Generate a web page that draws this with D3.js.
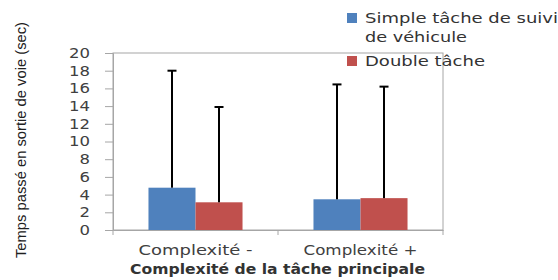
<!DOCTYPE html>
<html><head><meta charset="utf-8">
<script src="https://cdn.jsdelivr.net/npm/d3@7"></script>
<style>body{margin:0;background:#fff}svg{display:block}</style>
</head><body>
<svg id="c" width="558" height="280"></svg>
<script>
const categories = ["Complexité -", "Complexité +"];
const seriesNames = ["Simple tâche de suivi de véhicule", "Double tâche"];
const simpleValues = [4.78, 3.47];
const doubleValues = [3.13, 3.6];
const simpleErrTop = [18.0, 16.45];
const doubleErrTop = [13.9, 16.2];
const yTicks = [0, 2, 4, 6, 8, 10, 12, 14, 16, 18, 20];
const colors = ["#4F81BD", "#C0504D"];

const svg = d3.select("#c");
const L = 113, R = 443, T = 53, B = 230;
const font = "'DejaVu Sans', sans-serif";
const x = d3.scaleBand().domain(categories).range([L, R]).paddingInner(0.43).paddingOuter(0.215);
const xs = d3.scaleBand().domain([0, 1]).range([0, x.bandwidth()]);
const y = d3.scaleLinear().domain([0, 20]).range([B, T]);

// plot border
svg.append("rect").attr("x", L).attr("y", T).attr("width", R - L).attr("height", B - T)
  .attr("fill", "none").attr("stroke", "#a6a6a6").attr("stroke-width", 1);

// y axis
const ya = svg.append("g").attr("transform", `translate(${L},0)`)
  .call(d3.axisLeft(y).tickValues(yTicks).tickSize(8).tickPadding(5));
ya.select(".domain").attr("stroke", "#a6a6a6");
ya.selectAll(".tick line").attr("stroke", "#a6a6a6");
ya.selectAll(".tick text").attr("fill", "#404040").attr("font-family", font).attr("font-size", 14)
  .attr("x", -23)
  .attr("textLength", d => String(d).length * 10.5).attr("lengthAdjust", "spacingAndGlyphs");

// x axis
const xa = svg.append("g").attr("transform", `translate(0,${B})`)
  .call(d3.axisBottom(x).tickSize(0).tickPadding(15));
xa.select(".domain").attr("stroke", "#a6a6a6");
xa.selectAll(".tick text").attr("fill", "#404040").attr("font-family", font).attr("font-size", 14)
  .attr("textLength", 114).attr("lengthAdjust", "spacingAndGlyphs");
// category boundary ticks
const bounds = [L, (L + R) / 2, R];
svg.selectAll(".bt").data(bounds).enter().append("line")
  .attr("x1", d => d).attr("x2", d => d).attr("y1", B).attr("y2", B + 5)
  .attr("stroke", "#a6a6a6");

const data = [];
categories.forEach((c, i) => {
  data.push({c, s: 0, v: simpleValues[i], e: simpleErrTop[i]});
  data.push({c, s: 1, v: doubleValues[i], e: doubleErrTop[i]});
});

svg.selectAll(".bar").data(data).enter().append("rect")
  .attr("x", d => x(d.c) + xs(d.s)).attr("width", xs.bandwidth())
  .attr("y", d => y(d.v)).attr("height", d => B - y(d.v))
  .attr("fill", d => colors[d.s]);

const eg = svg.selectAll(".err").data(data).enter().append("g");
eg.append("line")
  .attr("x1", d => x(d.c) + xs(d.s) + xs.bandwidth() / 2)
  .attr("x2", d => x(d.c) + xs(d.s) + xs.bandwidth() / 2)
  .attr("y1", d => y(d.v)).attr("y2", d => y(d.e))
  .attr("stroke", "#000").attr("stroke-width", 2);
eg.append("line")
  .attr("x1", d => x(d.c) + xs(d.s) + xs.bandwidth() / 2 - 4.5)
  .attr("x2", d => x(d.c) + xs(d.s) + xs.bandwidth() / 2 + 4.5)
  .attr("y1", d => y(d.e)).attr("y2", d => y(d.e))
  .attr("stroke", "#000").attr("stroke-width", 2);

// y title
svg.append("text").attr("transform", "translate(26,140) rotate(-90)")
  .attr("text-anchor", "middle").attr("font-family", "'Liberation Sans', Arial, sans-serif")
  .attr("font-size", 15).attr("fill", "#202020")
  .attr("textLength", 236).attr("lengthAdjust", "spacingAndGlyphs")
  .text("Temps passé en sortie de voie (sec)");

// x title
svg.append("text").attr("x", 277.5).attr("y", 274).attr("text-anchor", "middle")
  .attr("font-family", font).attr("font-size", 14).attr("font-weight", "bold").attr("fill", "#333")
  .attr("textLength", 295).attr("lengthAdjust", "spacingAndGlyphs")
  .text("Complexité de la tâche principale");

// legend
const lg = svg.append("g").attr("font-family", font).attr("font-size", 14);
lg.append("rect").attr("x", 347).attr("y", 13).attr("width", 10).attr("height", 10).attr("fill", colors[0]);
lg.append("text").attr("x", 365).attr("y", 23).attr("fill", "#333")
  .attr("textLength", 193).attr("lengthAdjust", "spacingAndGlyphs").text("Simple tâche de suivi");
lg.append("text").attr("x", 365).attr("y", 42).attr("fill", "#333")
  .attr("textLength", 102).attr("lengthAdjust", "spacingAndGlyphs").text("de véhicule");
lg.append("rect").attr("x", 347).attr("y", 56).attr("width", 10).attr("height", 10).attr("fill", colors[1]);
lg.append("text").attr("x", 365).attr("y", 66).attr("fill", "#333")
  .attr("textLength", 120).attr("lengthAdjust", "spacingAndGlyphs").text(seriesNames[1]);
</script>
</body></html>
